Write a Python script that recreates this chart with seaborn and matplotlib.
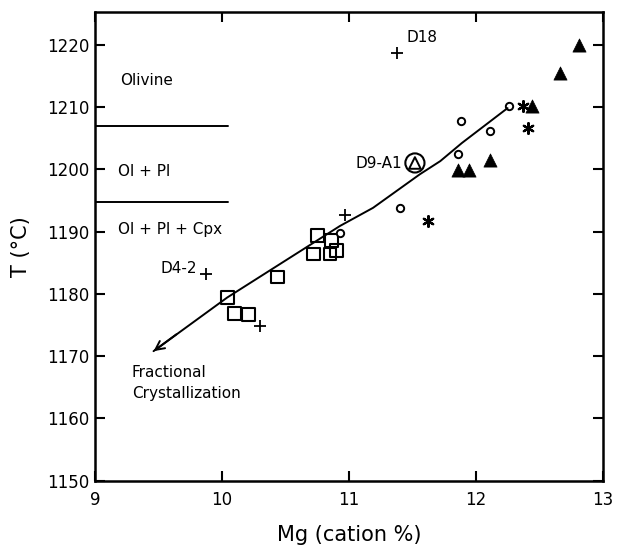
import numpy as np
import pandas as pd
import matplotlib
matplotlib.use("Agg")
import matplotlib.pyplot as plt
import seaborn as sns

# --- data: Mg (cation %) vs temperature (deg C) ---
sq_mg = [10.04, 10.10, 10.21, 10.44, 10.75, 10.72, 10.86, 10.85, 10.90]
sq_t = [1179.4, 1176.8, 1176.7, 1182.7, 1189.3, 1186.4, 1188.6, 1186.4, 1186.9]

circ_mg = [10.93, 11.40, 11.86, 11.88, 12.11, 12.26]
circ_t = [1189.8, 1193.7, 1202.4, 1207.8, 1206.2, 1210.2]

tri_mg = [11.86, 11.95, 12.11, 12.44, 12.66, 12.81]
tri_t = [1199.8, 1199.8, 1201.5, 1210.2, 1215.4, 1219.9]

star_mg = [11.62, 12.41, 12.37]
star_t = [1191.7, 1206.6, 1210.2]

plus_mg = [9.87, 10.30, 10.97, 11.38]
plus_t = [1183.2, 1174.8, 1192.7, 1218.7]

d9_mg = [11.52]
d9_t = [1201.0]

# fractional crystallization trend (drawn from high-Mg end toward the arrow)
trend_mg = [12.25, 11.89, 11.72, 11.56, 11.19, 10.93, 10.04, 9.46]
trend_t = [1209.8, 1204.2, 1201.3, 1199.2, 1193.8, 1190.9, 1179.4, 1170.8]

# phase boundaries
boundary_t = [1207.0, 1194.7]
boundary_xmax = 10.05

phase_labels = ["Olivine", "Ol + Pl", "Ol + Pl + Cpx"]
phase_label_t = [1214.2, 1199.7, 1190.4]

xticks = [9, 10, 11, 12, 13]
yticks = [1150, 1160, 1170, 1180, 1190, 1200, 1210, 1220]

sns.set_theme(style="ticks")
plt.rcParams["font.family"] = ["DejaVu Sans"]
plt.rcParams.update({"text.color": "black", "axes.labelcolor": "black",
                     "xtick.color": "black", "ytick.color": "black",
                     "axes.edgecolor": "black"})

fig = plt.figure(figsize=(6.22, 5.52), dpi=100)
ax = fig.add_axes([0.153, 0.129, 0.816, 0.849])

# trend line with open arrowhead
sns.lineplot(x=trend_mg, y=trend_t, sort=False, color="black", lw=1.4, ax=ax)
ax.annotate("", xy=(trend_mg[-1], trend_t[-1]),
            xytext=(trend_mg[-1] + 0.18, trend_t[-1] + 2.7),
            arrowprops=dict(arrowstyle="->", color="black", lw=1.4,
                            mutation_scale=16, shrinkA=0, shrinkB=0))

# phase boundary lines
for bt in boundary_t:
    ax.plot([9, boundary_xmax], [bt, bt], color="black", lw=1.4)

sns.scatterplot(x=sq_mg, y=sq_t, marker="s", s=85, facecolor="none",
                edgecolor="black", linewidth=1.5, ax=ax)
sns.scatterplot(x=circ_mg, y=circ_t, marker="o", s=28, facecolor="white",
                edgecolor="black", linewidth=1.4, ax=ax)
sns.scatterplot(x=tri_mg, y=tri_t, marker="^", s=90, color="black",
                edgecolor="black", linewidth=0.5, ax=ax)
sns.scatterplot(x=star_mg, y=star_t, marker=(6, 2, 0), s=60, color="black",
                linewidth=1.6, ax=ax)
sns.scatterplot(x=plus_mg, y=plus_t, marker="+", s=80, color="black",
                linewidth=1.3, ax=ax)
sns.scatterplot(x=d9_mg, y=d9_t, marker="o", s=190, facecolor="none",
                edgecolor="black", linewidth=1.5, ax=ax)
sns.scatterplot(x=d9_mg, y=d9_t, marker="^", s=70, facecolor="none",
                edgecolor="black", linewidth=1.4, ax=ax)

# annotations
fs = 11
for lab, ty in zip(phase_labels, phase_label_t):
    ax.text(9.2 if lab == "Olivine" else 9.18, ty, lab, fontsize=fs,
            va="center", ha="left")
ax.text(9.80, 1184.0, "D4-2", fontsize=fs, va="center", ha="right")
ax.text(11.45, 1221.2, "D18", fontsize=fs, va="center", ha="left")
ax.text(11.42, 1200.9, "D9-A1", fontsize=fs, va="center", ha="right")
ax.text(9.29, 1165.7, "Fractional\nCrystallization", fontsize=fs,
        va="center", ha="left", linespacing=1.5)

ax.set_xlim(9, 13)
ax.set_ylim(1150, 1225.2)
ax.set_xticks(xticks)
ax.set_yticks(yticks)
ax.set_xlabel("Mg (cation %)", fontsize=15, labelpad=12)
ax.set_ylabel("T (°C)", fontsize=15, labelpad=12)
ax.tick_params(direction="in", top=True, right=True, length=7, width=1.5,
               labelsize=12, labeltop=False, labelright=False)
ax.tick_params(axis="x", pad=7)
ax.tick_params(axis="y", pad=4)
for sp in ax.spines.values():
    sp.set_linewidth(1.8)
    sp.set_color("black")

fig.savefig("out.png", dpi=100)
